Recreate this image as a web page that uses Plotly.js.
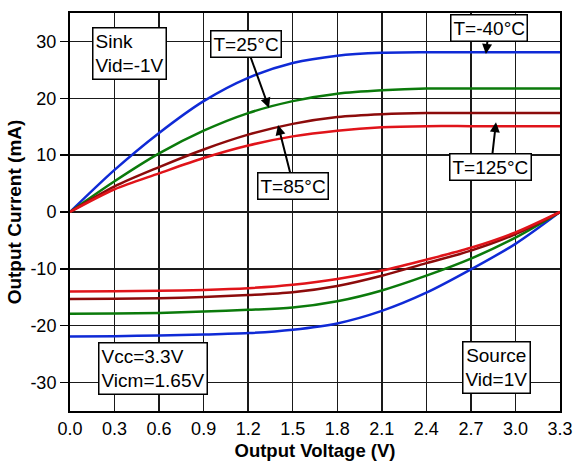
<!DOCTYPE html>
<html>
<head>
<meta charset="utf-8">
<script src="https://cdn.plot.ly/plotly-3.0.1.min.js"></script>
<style>html,body{margin:0;padding:0;background:#fff;}</style>
</head>
<body>
<div id="chart" style="width:574px;height:463px;"></div>
<script>
// Output voltage (V)
const voltage = [0, 0.3, 0.6, 0.9, 1.2, 1.5, 1.8, 2.1, 2.4, 2.7, 3.0, 3.3];
const xTickVals = [0, 0.3, 0.6, 0.9, 1.2, 1.5, 1.8, 2.1, 2.4, 2.7, 3.0, 3.3];
const xTickText = ["0.0", "0.3", "0.6", "0.9", "1.2", "1.5", "1.8", "2.1", "2.4", "2.7", "3.0", "3.3"];
const yTickVals = [-30, -20, -10, 0, 10, 20, 30];
const yTickText = ["-30", "-20", "-10", "0", "10", "20", "30"];

// Sink (Vid = -1V) output current (mA)
const sinkM40 = [0, 7.4, 13.9, 19.5, 23.6, 26.2, 27.5, 28.0, 28.1, 28.1, 28.1, 28.1];
const sink25  = [0, 5.4, 10.3, 14.3, 17.4, 19.5, 20.8, 21.4, 21.7, 21.7, 21.7, 21.7];
const sink85  = [0, 4.5, 7.9, 11.0, 13.6, 15.5, 16.7, 17.2, 17.4, 17.4, 17.4, 17.4];
const sink125 = [0, 4.0, 6.8, 9.5, 11.7, 13.3, 14.3, 14.9, 15.1, 15.1, 15.1, 15.1];

// Source (Vid = 1V) output current (mA)
const srcM40 = [-21.9, -21.85, -21.7, -21.55, -21.3, -20.7, -19.6, -17.4, -14.2, -10.1, -5.6, 0];
const src25  = [-17.9, -17.85, -17.75, -17.5, -17.2, -16.8, -15.7, -13.8, -11.2, -8.2, -4.5, 0];
const src85  = [-15.3, -15.25, -15.15, -14.95, -14.6, -14.1, -13.0, -11.2, -9.0, -6.8, -3.9, 0];
const src125 = [-14.0, -13.95, -13.85, -13.7, -13.4, -12.8, -11.8, -10.3, -8.4, -6.3, -3.6, 0];

const colors = {m40: "#0f2ad6", t25: "#0b7a0b", t85: "#8c0b0b", t125: "#e0141a"};
const font = "Arial, 'Liberation Sans', sans-serif";

function tr(y, c) {
  return {x: voltage, y: y, type: "scatter", mode: "lines",
          line: {color: c, width: 2.5, shape: "spline", smoothing: 0.85},
          showlegend: false, hoverinfo: "skip"};
}

const data = [
  tr(sinkM40, colors.m40), tr(sink25, colors.t25), tr(sink85, colors.t85), tr(sink125, colors.t125),
  tr(srcM40, colors.m40), tr(src25, colors.t25), tr(src85, colors.t85), tr(src125, colors.t125)
];

const boxStyle = {showarrow: false, font: {family: font, size: 19, color: "#000"},
  bgcolor: "#fff", bordercolor: "#000", borderwidth: 1.5, borderpad: 2, xref: "x", yref: "y"};
function box(text, x, y, align) {
  return Object.assign({}, boxStyle, {text: text, x: x, y: y, align: align || "left"});
}
function arrowBox(text, tipX, tipY, cx, cy) {
  return Object.assign({}, boxStyle, {text: text, x: tipX, y: tipY, ax: cx, ay: cy,
    axref: "x", ayref: "y", showarrow: true, arrowhead: 2, arrowsize: 1,
    arrowwidth: 2, arrowcolor: "#000", standoff: 0, startstandoff: 0});
}

const annotations = [
  box("Sink<br>Vid=-1V", 0.404, 27.8, "left"),
  box("Vcc=3.3V<br>Vicm=1.65V", 0.559, -27.5, "left"),
  box("Source<br>Vid=1V", 2.872, -27.3, "center"),
  arrowBox("T=25°C", 1.340, 18.3, 1.185, 29.5),
  arrowBox("T=85°C", 1.401, 15.3, 1.505, 4.6),
  arrowBox("T=-40°C", 2.801, 27.8, 2.822, 32.4),
  arrowBox("T=125°C", 2.869, 15.8, 2.835, 7.9)
];

const layout = {
  width: 574, height: 463,
  margin: {l: 70, r: 14, t: 13, b: 52},
  paper_bgcolor: "#fff", plot_bgcolor: "#fff",
  font: {family: font, color: "#000"},
  xaxis: {
    range: [0, 3.3], tickvals: xTickVals, ticktext: xTickText,
    showgrid: true, gridcolor: "#1a1a1a", gridwidth: 1.5,
    zeroline: false, showline: true, linecolor: "#000", linewidth: 2, mirror: true,
    ticks: "", tickfont: {family: font, size: 18, color: "#000"},
    title: {text: "Output Voltage (V)", font: {family: font, size: 18.5, weight: "bold", color: "#000"}, standoff: 6}
  },
  yaxis: {
    range: [-35, 35], tickvals: yTickVals, ticktext: yTickText,
    showgrid: true, gridcolor: "#1a1a1a", gridwidth: 1.5,
    zeroline: false, showline: true, linecolor: "#000", linewidth: 2, mirror: true,
    ticks: "outside", ticklen: 8, tickwidth: 1.5, tickcolor: "#000",
    tickfont: {family: font, size: 18, color: "#000"},
    title: {text: "Output Current (mA)", font: {family: font, size: 19, weight: "bold", color: "#000"}, standoff: 4}
  },
  annotations: annotations
};

Plotly.newPlot("chart", data, layout, {staticPlot: true, displayModeBar: false});
</script>
</body>
</html>
